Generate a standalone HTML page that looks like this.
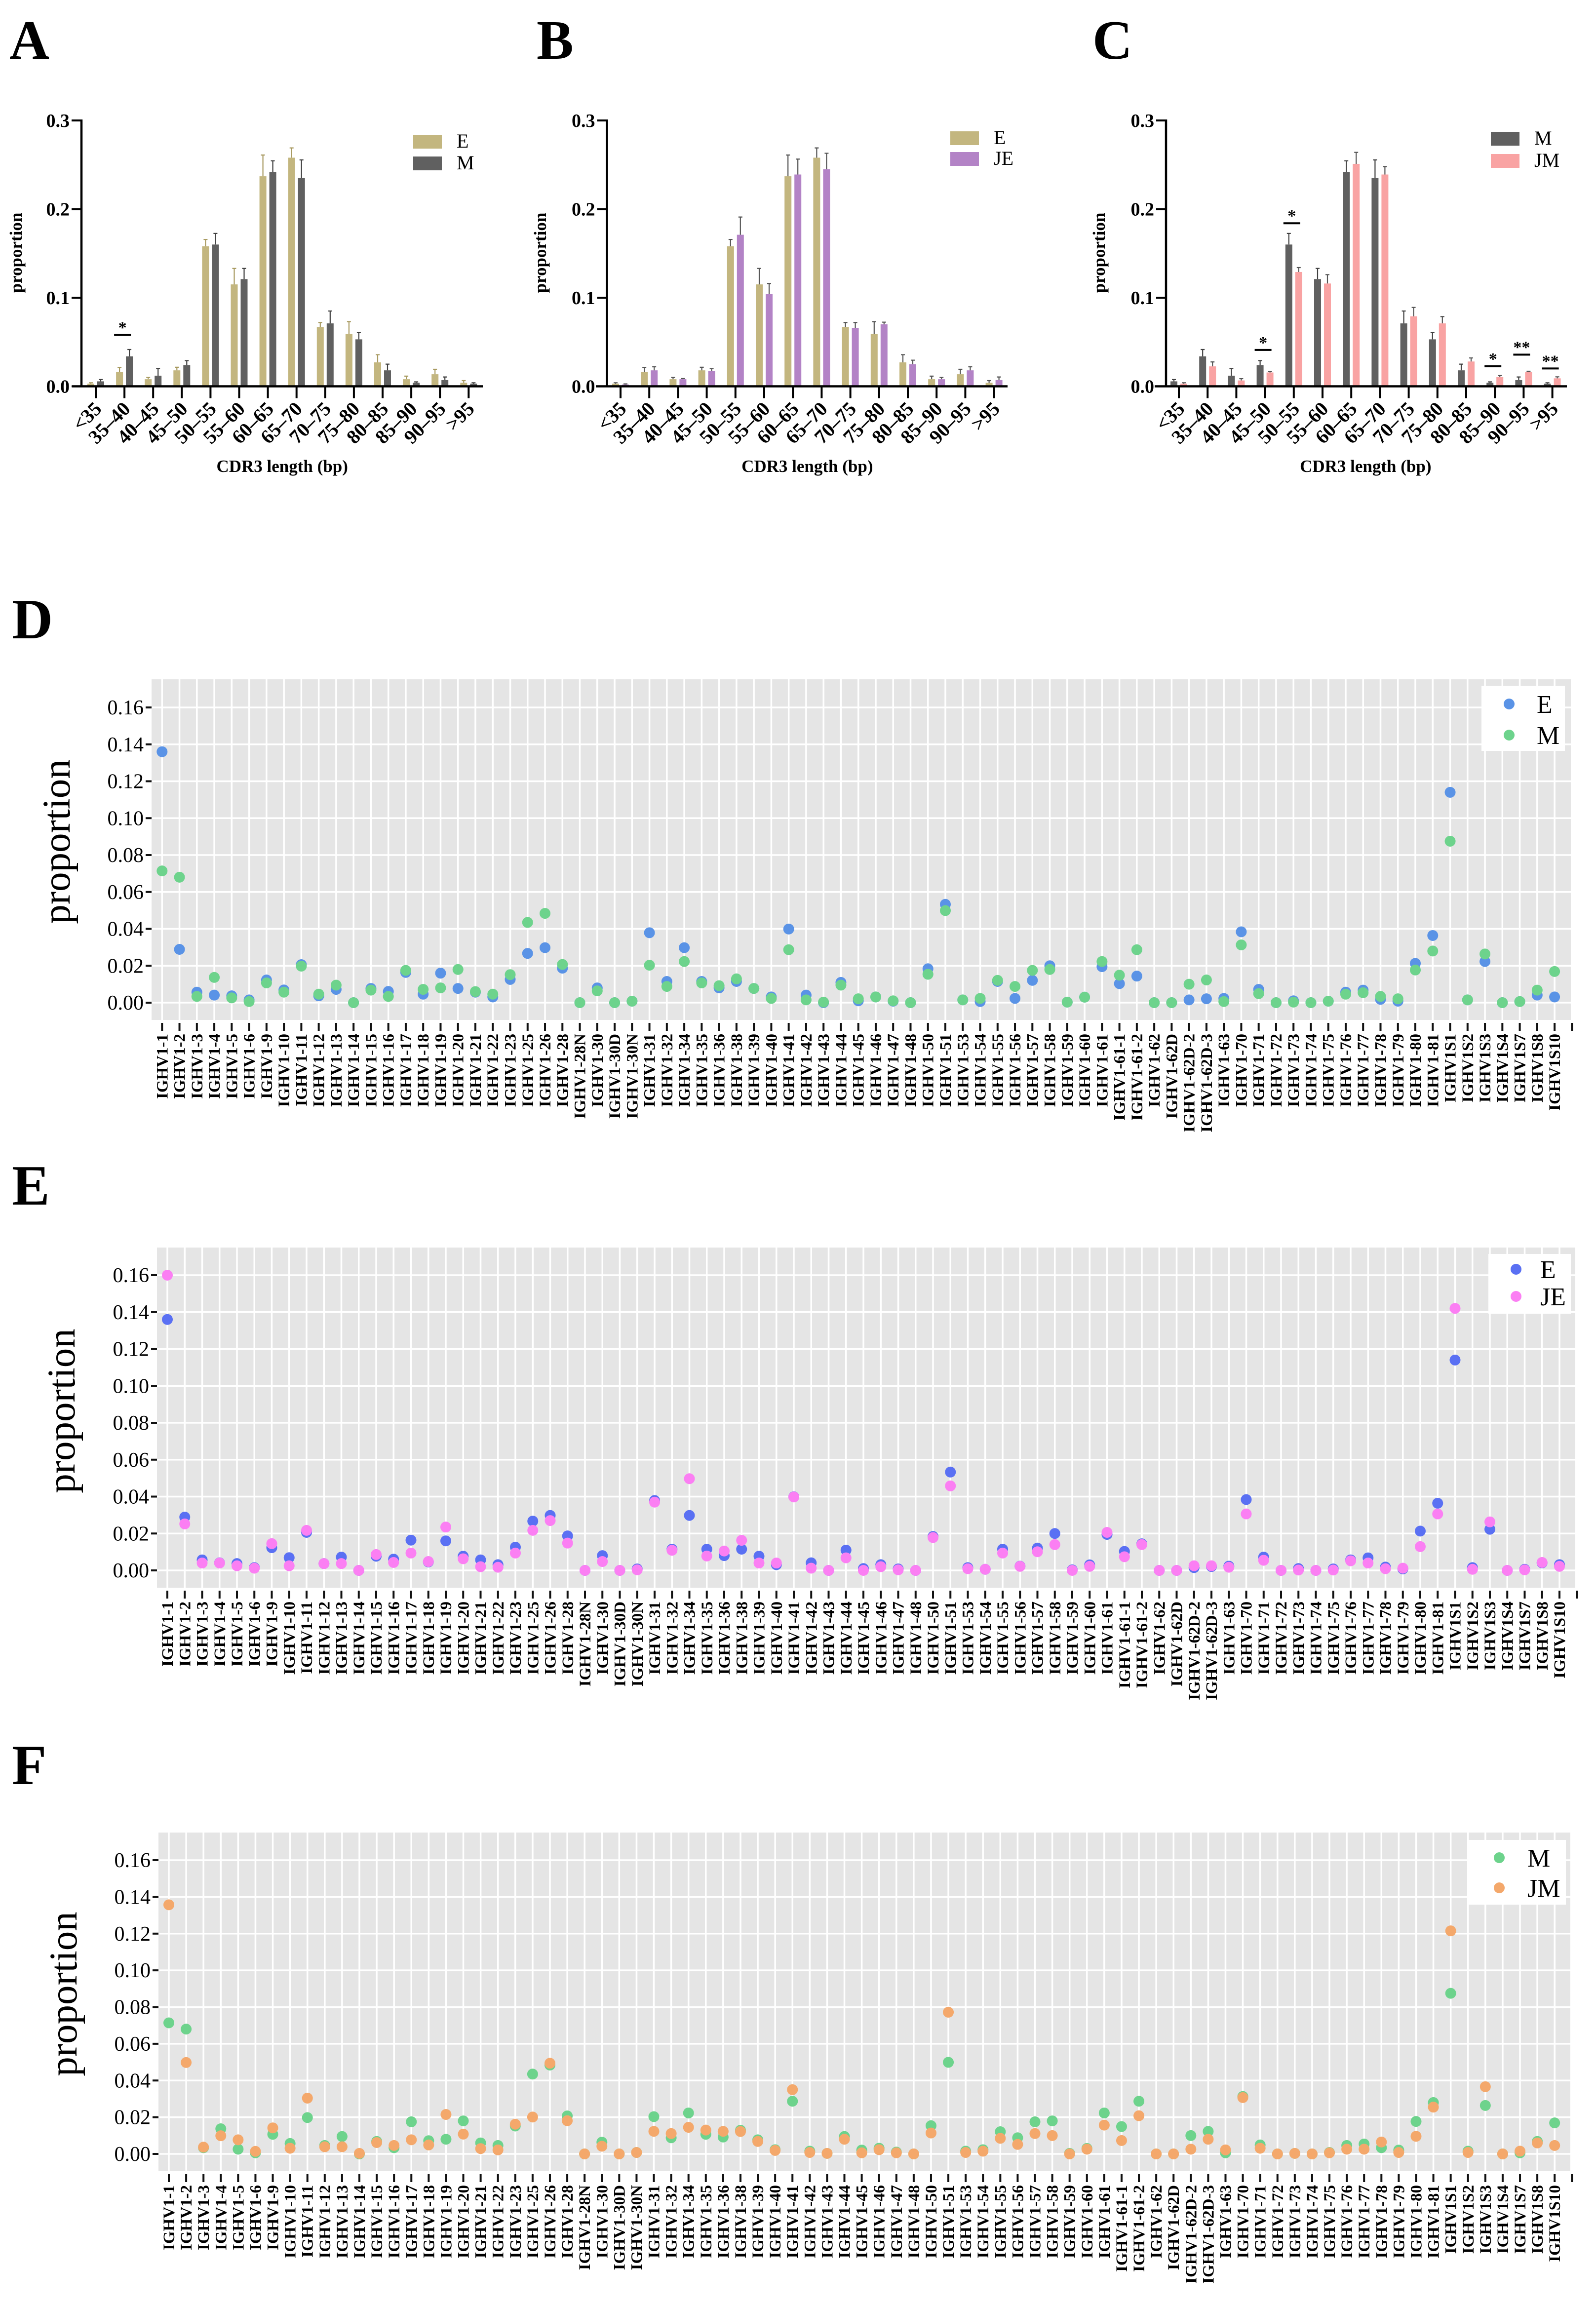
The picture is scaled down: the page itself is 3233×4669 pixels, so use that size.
<!DOCTYPE html>
<html><head><meta charset="utf-8"><title>CDR3 length and IGHV usage</title>
<style>
html,body{margin:0;padding:0;background:#fff;}
svg{display:block;}
text{font-family:"Liberation Serif","DejaVu Serif",serif;}
</style></head>
<body>
<svg id="fig" xmlns="http://www.w3.org/2000/svg" width="3233" height="4669" viewBox="0 0 3233 4669"></svg>
<script>
// ---------- CDR3 length distribution data (panels A-C) ----------
const cdrCats = ['<35','35\u201340','40\u201345','45\u201350','50\u201355','55\u201360','60\u201365','65\u201370','70\u201375','75\u201380','80\u201385','85\u201390','90\u201395','>95'];
const cdrE    = [0.003,0.0164,0.008,0.018,0.158,0.115,0.237,0.258,0.067,0.059,0.027,0.008,0.0136,0.004];
const cdrEErr = [0.001,0.005,0.002,0.0035,0.0077,0.018,0.024,0.011,0.005,0.014,0.0087,0.0035,0.0056,0.0024];
const cdrM    = [0.0056,0.0338,0.012,0.024,0.16,0.121,0.242,0.235,0.071,0.053,0.018,0.004,0.007,0.003];
const cdrMErr = [0.002,0.0077,0.008,0.005,0.0125,0.012,0.0125,0.0205,0.014,0.0077,0.007,0.001,0.0035,0.001];
const cdrJE    = [0.002,0.018,0.008,0.0174,0.171,0.104,0.239,0.245,0.066,0.07,0.025,0.008,0.018,0.007];
const cdrJEErr = [0.0007,0.004,0.0007,0.0024,0.02,0.012,0.0174,0.018,0.006,0.0024,0.0045,0.002,0.004,0.0035];
const cdrJM    = [0.003,0.0225,0.0066,0.0156,0.129,0.116,0.251,0.239,0.079,0.071,0.028,0.0104,0.016,0.009];
const cdrJMErr = [0.001,0.005,0.002,0.001,0.005,0.01,0.013,0.009,0.01,0.0077,0.004,0.0017,0.001,0.0017];
const barTicks = [0,0.1,0.2,0.3];
const barTickLabels = ['0.0','0.1','0.2','0.3'];
const sigAIdx = [1];
const sigALvl = ['*'];
const sigAVal = [0.058];
const sigBIdx = [];
const sigBLvl = [];
const sigBVal = [];
const sigCIdx = [3,4,11,12,13];
const sigCLvl = ['*','*','*','**','**'];
const sigCVal = [0.041,0.184,0.0226,0.0357,0.0201];

// ---------- IGHV usage data (panels D-F) ----------
const vCats = ['IGHV1-1','IGHV1-2','IGHV1-3','IGHV1-4','IGHV1-5','IGHV1-6','IGHV1-9','IGHV1-10','IGHV1-11','IGHV1-12','IGHV1-13','IGHV1-14','IGHV1-15','IGHV1-16','IGHV1-17','IGHV1-18','IGHV1-19','IGHV1-20','IGHV1-21','IGHV1-22','IGHV1-23','IGHV1-25','IGHV1-26','IGHV1-28','IGHV1-28N','IGHV1-30','IGHV1-30D','IGHV1-30N','IGHV1-31','IGHV1-32','IGHV1-34','IGHV1-35','IGHV1-36','IGHV1-38','IGHV1-39','IGHV1-40','IGHV1-41','IGHV1-42','IGHV1-43','IGHV1-44','IGHV1-45','IGHV1-46','IGHV1-47','IGHV1-48','IGHV1-50','IGHV1-51','IGHV1-53','IGHV1-54','IGHV1-55','IGHV1-56','IGHV1-57','IGHV1-58','IGHV1-59','IGHV1-60','IGHV1-61','IGHV1-61-1','IGHV1-61-2','IGHV1-62','IGHV1-62D','IGHV1-62D-2','IGHV1-62D-3','IGHV1-63','IGHV1-70','IGHV1-71','IGHV1-72','IGHV1-73','IGHV1-74','IGHV1-75','IGHV1-76','IGHV1-77','IGHV1-78','IGHV1-79','IGHV1-80','IGHV1-81','IGHV1S1','IGHV1S2','IGHV1S3','IGHV1S4','IGHV1S7','IGHV1S8','IGHV1S10',''];
const vE = [0.136,0.0289,0.0057,0.0041,0.0037,0.0015,0.0123,0.0069,0.0206,0.0037,0.0072,0,0.0077,0.0061,0.0164,0.0046,0.016,0.0077,0.0057,0.0031,0.0126,
 0.0267,0.0298,0.0187,0,0.008,0,0.0008,
 0.0379,0.0115,0.0298,0.0115,0.008,0.0115,0.0077,0.0031,0.0399,0.0041,0,0.011,0.001,0.0031,0.0008,0,0.0184,0.0533,0.0015,0.0006,0.0115,0.0023,0.0121,0.02,
 0.0003,0.003,0.0195,0.0103,0.0144,0,0,0.0015,0.0021,0.0023,
 0.0384,0.0072,0,0.001,0,0.0008,0.0057,0.0068,0.0018,0.0008,0.0213,0.0364,
 0.114,0.0015,0.0223,0,0.0006,0.0041,0.0031];
const vM = [0.0714,0.068,0.0034,0.0137,0.0026,0.0006,0.0107,0.0057,0.0198,0.0046,0.0095,0,0.0068,0.0034,0.0175,0.0072,0.008,0.018,0.006,0.0046,0.0152,
 0.0435,0.0484,0.0207,0,0.0064,0,0.0008,
 0.0203,0.0088,0.0223,0.0107,0.0092,0.0129,0.0077,0.0023,0.0287,0.0015,0.0003,0.0095,0.0021,0.0031,0.001,0,0.0154,0.0499,0.0015,0.0023,0.0121,0.0088,0.0175,0.018,
 0.0003,0.003,0.0223,0.0149,0.0287,0,0,0.01,0.0123,0.0006,
 0.0313,0.0049,0,0.0003,0,0.0008,0.0046,0.0054,0.0034,0.0021,0.0177,0.028,
 0.0875,0.0015,0.0264,0,0.0006,0.0068,0.0169];
const vJE = [0.16,0.0252,0.004,0.004,0.0025,0.0012,0.0145,0.0025,0.0217,0.0037,0.0037,0,0.0086,0.0043,0.0094,0.0048,0.0235,0.0063,0.002,0.0017,0.0094,
 0.0217,0.027,0.0148,0,0.0048,0,0.0003,
 0.037,0.0109,0.0497,0.0078,0.0105,0.0163,0.004,0.004,0.0398,0.0012,0,0.0068,0,0.002,0.0003,0,0.0178,0.0458,0.0009,0.0006,0.0094,0.0022,0.0101,0.014,
 0,0.0022,0.0206,0.0074,0.014,0,0,0.0025,0.0025,0.0017,
 0.0306,0.0055,0,0.0002,0,0.0002,0.0052,0.004,0.0009,0.0012,0.0129,0.0306,
 0.142,0.0006,0.0263,0,0.0003,0.0043,0.0022];
const vJM = [0.1357,0.0498,0.0037,0.0099,0.0077,0.0014,0.0142,0.0031,0.0304,0.0039,0.0039,0.0003,0.0062,0.0046,0.0077,0.0049,0.0215,0.0108,0.0029,0.0022,0.0162,
 0.0201,0.0494,0.0181,0,0.0042,0,0.0008,
 0.0123,0.0111,0.0145,0.013,0.0123,0.0122,0.0068,0.0019,0.035,0.0008,0.0003,0.008,0.0006,0.0023,0.0006,0,0.0114,0.0772,0.0008,0.0015,0.0085,0.0052,0.0111,0.01,
 0,0.0026,0.0157,0.0073,0.0208,0,0,0.0026,0.008,0.0022,
 0.0307,0.0031,0,0.0003,0,0.0006,0.0026,0.0026,0.0065,0.0008,0.0096,0.0255,
 0.1215,0.0008,0.0366,0,0.0015,0.006,0.0046];
const vTicks = [0,0.02,0.04,0.06,0.08,0.10,0.12,0.14,0.16];
const vTickLabels = ['0.00','0.02','0.04','0.06','0.08','0.10','0.12','0.14','0.16'];

const NS = 'http://www.w3.org/2000/svg';
const svg = document.getElementById('fig');
function mk(tag, attrs, parent) {
  const e = document.createElementNS(NS, tag);
  for (const k in attrs) e.setAttribute(k, attrs[k]);
  (parent || svg).appendChild(e);
  return e;
}
function txt(s, attrs, parent) { const t = mk('text', attrs, parent); t.textContent = s; return t; }

// ---------- bar panels ----------
function drawBarPanel(cfg) {
  const g = mk('g', {});
  
  
  const y0 = 782.5, y3 = 244;
  const yS = v => y0 - v / 0.3 * (y0 - y3);
  const xS = i => cfg.tick0 + i * cfg.step;

  const L = txt(cfg.letter, {x: cfg.letterX, y: 119, 'font-size': 112, 'font-weight': 'bold'}, g);
  
  

  cfg.series.forEach((s, si) => {
    const off = si === 0 ? -10 : 10;
    s.vals.forEach((v, i) => {
      const cx = xS(i) + off;
      const top = yS(v);
      const r = mk('rect', {x: cx - 7, y: top, width: 14, height: y0 - top, fill: s.color}, g);
      
      
      const et = yS(v + s.errs[i]);
      const e = mk('path', {d: 'M' + cx + ' ' + top + 'V' + et + 'M' + (cx - 4) + ' ' + et + 'H' + (cx + 4), stroke: s.err, 'stroke-width': 2.2, fill: 'none'}, g);
      
      
    });
  });

  const ax = mk('path', {d: 'M' + cfg.axisX + ' ' + (y3 - 2) + 'V' + y0 + 'M' + cfg.lineX0 + ' ' + y0 + 'H' + cfg.lineX1, stroke: '#000', 'stroke-width': 4.5, fill: 'none'}, g);
  
  
  barTicks.forEach((t, i) => {
    const y = yS(t);
    const tk = mk('line', {x1: cfg.axisX - 20, x2: cfg.axisX, y1: y, y2: y, stroke: '#000', 'stroke-width': 4}, g);
    
    
    const tl = txt(barTickLabels[i], {x: cfg.axisX - 24, y: y + 13, 'font-size': 38, 'font-weight': 'bold', 'text-anchor': 'end'}, g);
    
    
  });
  cdrCats.forEach((c, i) => {
    const x = xS(i);
    const tk = mk('line', {x1: x, x2: x, y1: y0, y2: y0 + 24, stroke: '#000', 'stroke-width': 4}, g);
    
    
    const tl = txt(c, {x: x + 14, y: y0 + 48, 'font-size': 40, 'font-weight': 'bold', 'text-anchor': 'end', transform: 'rotate(-45 ' + (x + 14) + ' ' + (y0 + 48) + ')'}, g);
    
    
  });
  const xt = txt('CDR3 length (bp)', {x: (xS(0) + xS(cdrCats.length - 1)) / 2, y: 956, 'font-size': 35, 'font-weight': 'bold', 'text-anchor': 'middle'}, g);
  
  
  const yt = txt('proportion', {x: cfg.yTitleX, y: 512, 'font-size': 35, 'font-weight': 'bold', 'text-anchor': 'middle', transform: 'rotate(-90 ' + cfg.yTitleX + ' 512)'}, g);
  
  

  cfg.sigIdx.forEach((idx, k) => {
    const cx = xS(idx) - 4;
    const y = yS(cfg.sigVal[k]);
    const b = mk('line', {x1: cx - 17, x2: cx + 17, y1: y, y2: y, stroke: '#000', 'stroke-width': 4}, g);
    
    
    const s = txt(cfg.sigLvl[k], {x: cx, y: y - 4, 'font-size': 34, 'font-weight': 'bold', 'text-anchor': 'middle'}, g);
    
    
  });

  cfg.series.forEach((s, si) => {
    const ly = cfg.legY[si];
    const sw = mk('rect', {x: cfg.legX, y: ly, width: 58, height: 28, fill: s.color}, g);
    
    
    const lt = txt(s.label, {x: cfg.legX + 88, y: ly + 26, 'font-size': 40}, g);
    
    
  });
}

const cTan = '#c3b67f', cGray = '#606060', cPurple = '#b383c6', cPink = '#f9a3a3';
drawBarPanel({name: 'panel-a', letter: 'A', letterX: 19, axisX: 165, lineX0: 146, lineX1: 978, tick0: 194, step: 58.1, yTitleX: 44, legX: 837, legY: [273, 317],
  sigIdx: sigAIdx, sigLvl: sigALvl, sigVal: sigAVal,
  series: [{key: 'E', label: 'E', vals: cdrE, errs: cdrEErr, color: cTan, err: '#a89a60'}, {key: 'M', label: 'M', vals: cdrM, errs: cdrMErr, color: cGray, err: '#404040'}]});
drawBarPanel({name: 'panel-b', letter: 'B', letterX: 1087, axisX: 1229.5, lineX0: 1207, lineX1: 2041, tick0: 1257, step: 58.2, yTitleX: 1106, legX: 1925, legY: [266, 308],
  sigIdx: sigBIdx, sigLvl: sigBLvl, sigVal: sigBVal,
  series: [{key: 'E', label: 'E', vals: cdrE, errs: cdrEErr, color: cTan, err: '#555'}, {key: 'JE', label: 'JE', vals: cdrJE, errs: cdrJEErr, color: cPurple, err: '#555'}]});
drawBarPanel({name: 'panel-c', letter: 'C', letterX: 2213, axisX: 2362, lineX0: 2339, lineX1: 3174, tick0: 2388, step: 58.2, yTitleX: 2238, legX: 3020, legY: [267, 312],
  sigIdx: sigCIdx, sigLvl: sigCLvl, sigVal: sigCVal,
  series: [{key: 'M', label: 'M', vals: cdrM, errs: cdrMErr, color: cGray, err: '#404040'}, {key: 'JM', label: 'JM', vals: cdrJM, errs: cdrJMErr, color: cPink, err: '#555'}]});

// ---------- dot panels ----------
function drawDotPanel(cfg) {
  const g = mk('g', {});
  
  
  const per = (cfg.y0 - cfg.y16) / 0.16;
  const yS = v => cfg.y0 - v * per;
  const xS = i => cfg.cat0 + i * cfg.step;

  const L = txt(cfg.letter, {x: 24, y: cfg.letterY, 'font-size': 115, 'font-weight': 'bold'}, g);
  
  

  const bg = mk('rect', {x: cfg.left, y: cfg.top, width: cfg.right - cfg.left, height: cfg.bottom - cfg.top, fill: '#e5e5e5'}, g);
  
  
  vTicks.forEach((t, i) => {
    const y = yS(t);
    const gl = mk('line', {x1: cfg.left, x2: cfg.right, y1: y, y2: y, stroke: '#fff', 'stroke-width': 3.5}, g);
    
    
    const tk = mk('line', {x1: cfg.left - 12, x2: cfg.left, y1: y, y2: y, stroke: '#111', 'stroke-width': 4}, g);
    
    
    const tl = txt(vTickLabels[i], {x: cfg.left - 16, y: y + 14, 'font-size': 42, 'text-anchor': 'end'}, g);
    
    
  });
  vCats.forEach((c, i) => {
    const x = xS(i);
    const gl = mk('line', {x1: x, x2: x, y1: cfg.top, y2: cfg.bottom, stroke: '#fff', 'stroke-width': 3.5}, g);
    
    
    const tk = mk('line', {x1: x, x2: x, y1: cfg.bottom + 6, y2: cfg.bottom + 22, stroke: '#111', 'stroke-width': 4}, g);
    
    
    if (c) {
      const ly = cfg.bottom + 28;
      const tl = txt(c, {x: x + 11, y: ly, 'font-size': 33, 'font-weight': 'bold', 'text-anchor': 'end', transform: 'rotate(-90 ' + (x + 11) + ' ' + ly + ')'}, g);
      
      
    }
  });
  cfg.series.forEach(s => {
    s.vals.forEach((v, i) => {
      const d = mk('circle', {cx: xS(i), cy: yS(v), r: 11, fill: s.color}, g);
      
      
    });
  });
  const yt = txt('proportion', {x: cfg.yTitleX, y: cfg.yTitleY, 'font-size': 79, 'text-anchor': 'middle', transform: 'rotate(-90 ' + cfg.yTitleX + ' ' + cfg.yTitleY + ')'}, g);
  
  

  const lb = mk('rect', {x: cfg.leg.x0, y: cfg.leg.y0, width: cfg.leg.x1 - cfg.leg.x0, height: cfg.leg.y1 - cfg.leg.y0, fill: '#fff'}, g);
  
  
  cfg.series.forEach((s, si) => {
    const ly = cfg.leg.ys[si];
    const ld = mk('circle', {cx: cfg.leg.dotX, cy: ly, r: 11, fill: s.color}, g);
    
    
    const lt = txt(s.key, {x: cfg.leg.textX, y: ly + 18, 'font-size': 52}, g);
    
    
  });
}

drawDotPanel({name: 'panel-d', letter: 'D', letterY: 1293, left: 307, right: 3182, top: 1376, bottom: 2066, y0: 2031, y16: 1433, cat0: 328.3, step: 35.26,
  yTitleX: 141, yTitleY: 1705,
  leg: {x0: 3001, x1: 3170, y0: 1389, y1: 1521, dotX: 3057, textX: 3113, ys: [1426, 1489]},
  series: [{key: 'E', vals: vE, color: '#5a93e6'}, {key: 'M', vals: vM, color: '#6dd38c'}]});
drawDotPanel({name: 'panel-e', letter: 'E', letterY: 2440, left: 318, right: 3191, top: 2527, bottom: 3216, y0: 3181, y16: 2583, cat0: 339, step: 35.25,
  yTitleX: 151, yTitleY: 2858,
  leg: {x0: 3015, x1: 3182, y0: 2540, y1: 2661, dotX: 3071, textX: 3120, ys: [2571, 2626]},
  series: [{key: 'E', vals: vE, color: '#5a70f3'}, {key: 'JE', vals: vJE, color: '#fb7ff3'}]});
drawDotPanel({name: 'panel-f', letter: 'F', letterY: 3614, left: 321, right: 3181, top: 3712, bottom: 4398, y0: 4363, y16: 3768, cat0: 342, step: 35.09,
  yTitleX: 155, yTitleY: 4039,
  leg: {x0: 2974, x1: 3172, y0: 3727, y1: 3858, dotX: 3037, textX: 3094, ys: [3763, 3824]},
  series: [{key: 'M', vals: vM, color: '#6dd38c'}, {key: 'JM', vals: vJM, color: '#f4a86b'}]});
</script>
</body></html>
